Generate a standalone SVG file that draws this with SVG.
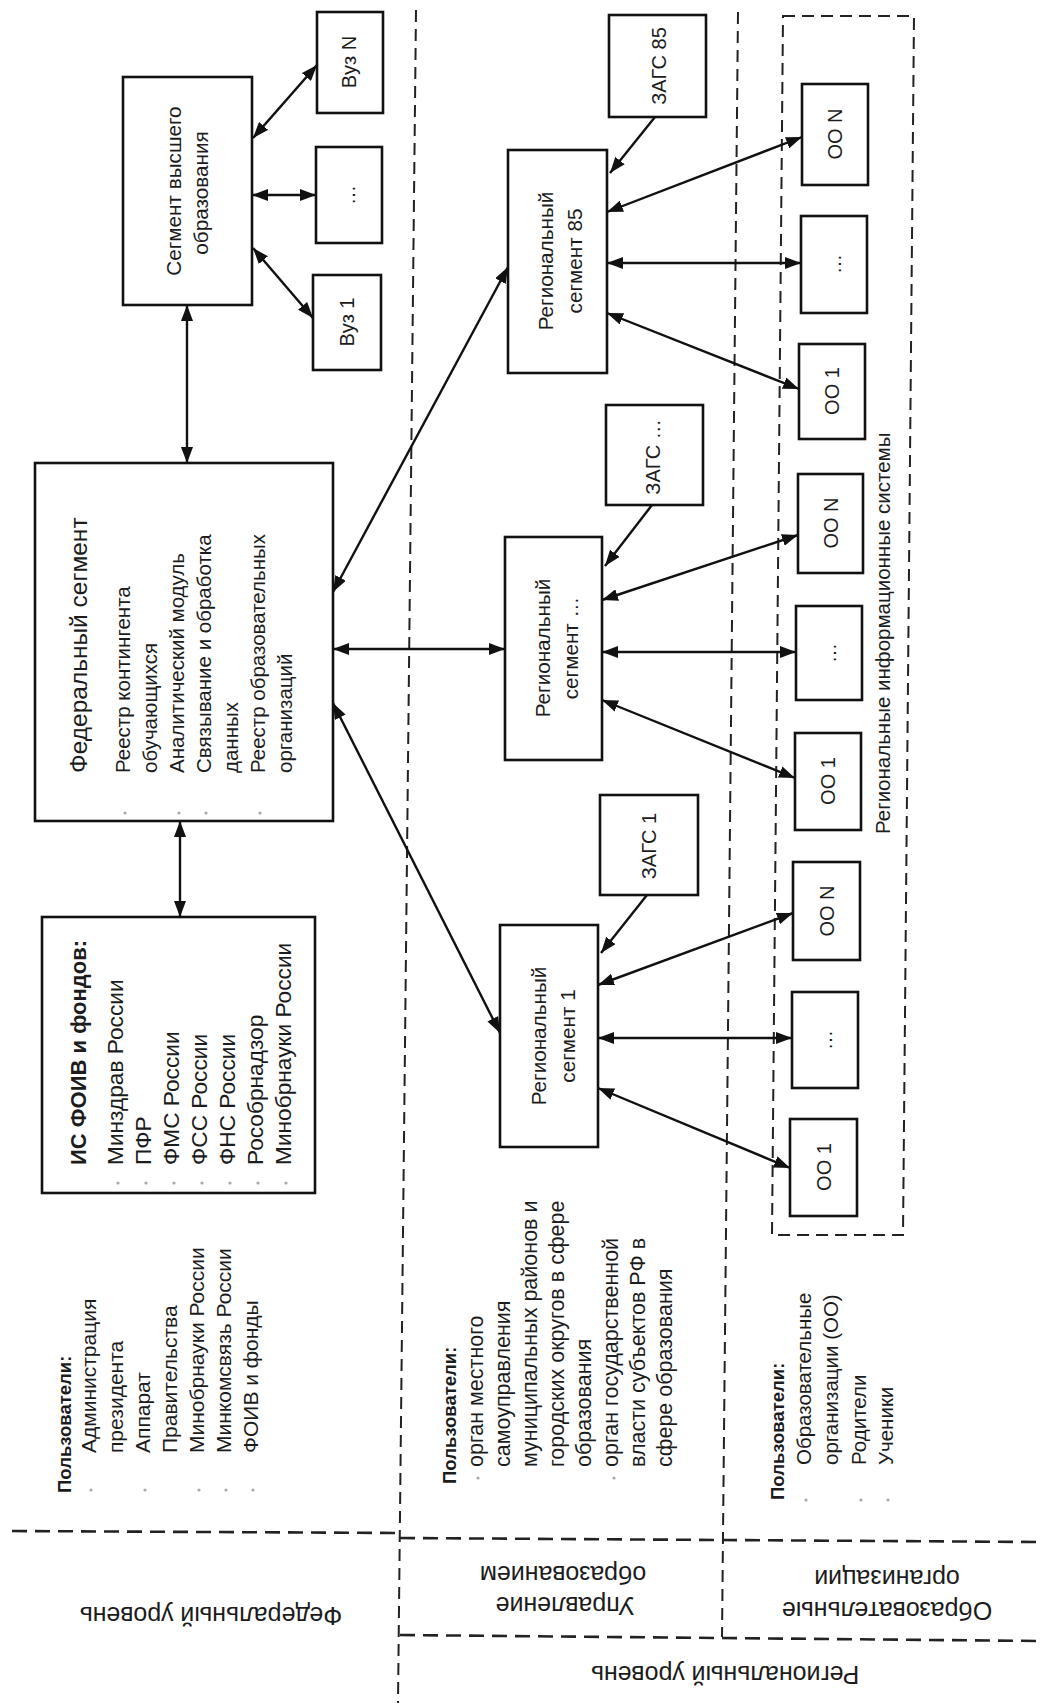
<svg xmlns="http://www.w3.org/2000/svg" width="1041" height="1703" viewBox="0 0 1041 1703">
<defs>
<marker id="ah" viewBox="0 0 16 12" refX="16" refY="6" markerWidth="16" markerHeight="12" markerUnits="userSpaceOnUse" orient="auto-start-reverse"><path d="M0,0 L16,6 L0,12 Z" fill="#111"/></marker>
<style>
.box{fill:none;stroke:#111;stroke-width:2.6}
.t{font-family:"Liberation Sans",Arial,sans-serif;font-size:20px;fill:#1c1c1c}
.m{text-anchor:middle}
.b{font-weight:bold}
.lv{font-size:25px}
.bx{font-size:20.7px}
.c{stroke:#111;stroke-width:2.4;fill:none}
.d{marker-start:url(#ah);marker-end:url(#ah)}
.s{marker-end:url(#ah)}
.dash{stroke:#222;stroke-width:2;fill:none;stroke-dasharray:12 7}
.hdash{stroke:#222;stroke-width:2.6;fill:none;stroke-dasharray:15 8}
.bul{fill:#aaa}
</style>
</defs>
<rect width="1041" height="1703" fill="#fff"/>

<g id="levels">
<line class="dash" x1="416" y1="10" x2="398" y2="1703"/>
<line class="dash" x1="738" y1="12" x2="722" y2="1637"/>
<line class="hdash" x1="12" y1="1531" x2="400" y2="1533"/>
<line class="hdash" x1="400" y1="1538" x2="1041" y2="1542"/>
<line class="hdash" x1="400" y1="1635" x2="1041" y2="1641"/>
<text class="t m lv" transform="translate(211 1607) rotate(180)">Федеральный уровень</text>
<text class="t m lv" transform="translate(565 1597) rotate(180)">Управление</text>
<text class="t m lv" transform="translate(563 1566) rotate(180)">образованием</text>
<text class="t m lv" transform="translate(887 1602) rotate(180)">Образовательные</text>
<text class="t m lv" transform="translate(887 1570) rotate(180)">организации</text>
<text class="t m lv" transform="translate(725 1666) rotate(180)">Региональный уровень</text>
</g>

<g id="users-federal">
<text class="t b" style="font-size:18.5px" transform="translate(71 1493) rotate(-90)">Пользователи:</text>
<text class="t" style="font-size:21px" transform="translate(96 1453) rotate(-90)">Администрация</text>
<text class="t" style="font-size:21px" transform="translate(123 1453) rotate(-90)">президента</text>
<text class="t" style="font-size:21px" transform="translate(150 1453) rotate(-90)">Аппарат</text>
<text class="t" style="font-size:21px" transform="translate(177 1453) rotate(-90)">Правительства</text>
<text class="t" style="font-size:21px" transform="translate(204 1453) rotate(-90)">Минобрнауки России</text>
<text class="t" style="font-size:21px" transform="translate(231 1453) rotate(-90)">Минкомсвязь России</text>
<text class="t" style="font-size:21px" transform="translate(258 1453) rotate(-90)">ФОИВ и фонды</text>
<circle class="bul" cx="91" cy="1490" r="1.6"/><circle class="bul" cx="145" cy="1490" r="1.6"/><circle class="bul" cx="199" cy="1490" r="1.6"/><circle class="bul" cx="226" cy="1490" r="1.6"/><circle class="bul" cx="253" cy="1490" r="1.6"/>
</g>

<g id="users-regional">
<text class="t b" style="font-size:18.5px" transform="translate(456 1484) rotate(-90)">Пользователи:</text>
<text class="t" style="font-size:21.5px" transform="translate(483 1467) rotate(-90)">орган местного</text>
<text class="t" style="font-size:21.5px" transform="translate(510 1467) rotate(-90)">самоуправления</text>
<text class="t" style="font-size:21.5px" transform="translate(537 1467) rotate(-90)">муниципальных районов и</text>
<text class="t" style="font-size:21.5px" transform="translate(564 1467) rotate(-90)">городских округов в сфере</text>
<text class="t" style="font-size:21.5px" transform="translate(591 1467) rotate(-90)">образования</text>
<text class="t" style="font-size:21.5px" transform="translate(618 1467) rotate(-90)">орган государственной</text>
<text class="t" style="font-size:21.5px" transform="translate(645 1467) rotate(-90)">власти субъектов РФ в</text>
<text class="t" style="font-size:21.5px" transform="translate(672 1467) rotate(-90)">сфере образования</text>
<circle class="bul" cx="478" cy="1478" r="1.6"/><circle class="bul" cx="614" cy="1478" r="1.6"/>
</g>

<g id="users-edu">
<text class="t b" style="font-size:18.5px" transform="translate(784 1500) rotate(-90)">Пользователи:</text>
<text class="t" style="font-size:20.5px" transform="translate(811 1465) rotate(-90)">Образовательные</text>
<text class="t" style="font-size:20.5px" transform="translate(838 1465) rotate(-90)">организации (ОО)</text>
<text class="t" style="font-size:20.5px" transform="translate(866 1465) rotate(-90)">Родители</text>
<text class="t" style="font-size:20.5px" transform="translate(893 1465) rotate(-90)">Ученики</text>
<circle class="bul" cx="806" cy="1500" r="1.6"/><circle class="bul" cx="861" cy="1500" r="1.6"/><circle class="bul" cx="888" cy="1500" r="1.6"/>
</g>

<g id="regional-is">
<path class="dash" d="M783,16 L914,16 L903,1235 L772,1235 Z"/>
<text class="t" style="font-size:20.5px" transform="translate(890 834) rotate(-90)">Региональные информационные системы</text>
</g>

<g id="connectors">
<line class="c d" x1="253" y1="138" x2="317" y2="65"/>
<line class="c d" x1="252" y1="195" x2="316" y2="195"/>
<line class="c d" x1="253" y1="248" x2="313" y2="318"/>
<line class="c d" x1="187" y1="305" x2="187" y2="463"/>
<line class="c d" x1="180" y1="821" x2="180" y2="917"/>
<line class="c d" x1="333" y1="592" x2="508" y2="267"/>
<line class="c d" x1="333" y1="649" x2="505" y2="649"/>
<line class="c d" x1="333" y1="703" x2="500" y2="1033"/>
<line class="c s" x1="655" y1="117" x2="610" y2="173"/>
<line class="c s" x1="652" y1="505" x2="605" y2="566"/>
<line class="c s" x1="647" y1="895" x2="601" y2="953"/>
<line class="c d" x1="607" y1="212" x2="802" y2="137"/>
<line class="c d" x1="607" y1="263" x2="801" y2="263"/>
<line class="c d" x1="607" y1="313" x2="799" y2="389"/>
<line class="c d" x1="602" y1="600" x2="798" y2="535"/>
<line class="c d" x1="602" y1="652" x2="796" y2="652"/>
<line class="c d" x1="602" y1="700" x2="795" y2="778"/>
<line class="c d" x1="598" y1="985" x2="793" y2="913"/>
<line class="c d" x1="598" y1="1038" x2="792" y2="1038"/>
<line class="c d" x1="598" y1="1088" x2="790" y2="1168"/>
</g>

<g id="seg-higher">
<rect class="box" x="123" y="77" width="129" height="228"/>
<text class="t m bx" transform="translate(181 191) rotate(-90)">Сегмент высшего</text>
<text class="t m bx" transform="translate(208 193) rotate(-90)">образования</text>
</g>
<g id="vuz-n">
<rect class="box" x="317" y="12" width="66" height="101"/>
<text class="t m" transform="translate(356 62) rotate(-90)">Вуз N</text>
</g>
<g id="vuz-dots">
<rect class="box" x="316" y="147" width="66" height="96"/>
<text class="t m" transform="translate(355 195) rotate(-90)">…</text>
</g>
<g id="vuz-1">
<rect class="box" x="313" y="275" width="68" height="95"/>
<text class="t m" transform="translate(354 322) rotate(-90)">Вуз 1</text>
</g>

<g id="fed-seg">
<rect class="box" x="35" y="463" width="298" height="358"/>
<text class="t" style="font-size:24.5px" transform="translate(87 773) rotate(-90)">Федеральный сегмент</text>
<text class="t" style="font-size:20.5px" transform="translate(130 773) rotate(-90)">Реестр контингента</text>
<text class="t" style="font-size:20.5px" transform="translate(157 773) rotate(-90)">обучающихся</text>
<text class="t" style="font-size:20.5px" transform="translate(184 773) rotate(-90)">Аналитический модуль</text>
<text class="t" style="font-size:20.5px" transform="translate(211 773) rotate(-90)">Связывание и обработка</text>
<text class="t" style="font-size:20.5px" transform="translate(238 773) rotate(-90)">данных</text>
<text class="t" style="font-size:20.5px" transform="translate(265 773) rotate(-90)">Реестр образовательных</text>
<text class="t" style="font-size:20.5px" transform="translate(292 773) rotate(-90)">организаций</text>
<circle class="bul" cx="125" cy="813" r="1.6"/><circle class="bul" cx="179" cy="813" r="1.6"/><circle class="bul" cx="206" cy="813" r="1.6"/><circle class="bul" cx="260" cy="813" r="1.6"/>
</g>

<g id="is-foiv">
<rect class="box" x="42" y="917" width="273" height="276"/>
<text class="t b" style="font-size:22px" transform="translate(86 1165) rotate(-90)">ИС ФОИВ и фондов:</text>
<text class="t" style="font-size:22.7px" transform="translate(123 1165) rotate(-90)">Минздрав России</text>
<text class="t" style="font-size:22.7px" transform="translate(151 1165) rotate(-90)">ПФР</text>
<text class="t" style="font-size:22.7px" transform="translate(179 1165) rotate(-90)">ФМС России</text>
<text class="t" style="font-size:22.7px" transform="translate(207 1165) rotate(-90)">ФСС России</text>
<text class="t" style="font-size:22.7px" transform="translate(235 1165) rotate(-90)">ФНС России</text>
<text class="t" style="font-size:22.7px" transform="translate(263 1165) rotate(-90)">Рособрнадзор</text>
<text class="t" style="font-size:22.7px" transform="translate(291 1165) rotate(-90)">Минобрнауки России</text>
<circle class="bul" cx="118" cy="1183" r="1.6"/><circle class="bul" cx="146" cy="1183" r="1.6"/><circle class="bul" cx="174" cy="1183" r="1.6"/><circle class="bul" cx="202" cy="1183" r="1.6"/><circle class="bul" cx="230" cy="1183" r="1.6"/><circle class="bul" cx="258" cy="1183" r="1.6"/><circle class="bul" cx="286" cy="1183" r="1.6"/>
</g>

<g id="reg-85">
<rect class="box" x="508" y="150" width="99" height="223"/>
<text class="t m bx" transform="translate(553 261) rotate(-90)">Региональный</text>
<text class="t m bx" transform="translate(582 261) rotate(-90)">сегмент 85</text>
</g>
<g id="zags-85">
<rect class="box" x="609" y="15" width="97" height="102"/>
<text class="t m" transform="translate(666 66) rotate(-90)">ЗАГС 85</text>
</g>
<g id="reg-dots">
<rect class="box" x="505" y="537" width="97" height="223"/>
<text class="t m bx" transform="translate(550 648) rotate(-90)">Региональный</text>
<text class="t m bx" transform="translate(578 648) rotate(-90)">сегмент …</text>
</g>
<g id="zags-dots">
<rect class="box" x="606" y="405" width="97" height="100"/>
<text class="t m" transform="translate(660 457) rotate(-90)">ЗАГС …</text>
</g>
<g id="reg-1">
<rect class="box" x="500" y="925" width="98" height="222"/>
<text class="t m bx" transform="translate(546 1036) rotate(-90)">Региональный</text>
<text class="t m bx" transform="translate(575 1036) rotate(-90)">сегмент 1</text>
</g>
<g id="zags-1">
<rect class="box" x="600" y="795" width="98" height="100"/>
<text class="t m" transform="translate(656 846) rotate(-90)">ЗАГС 1</text>
</g>

<g id="oo-85-n"><rect class="box" x="802" y="84" width="66" height="101"/><text class="t m" transform="translate(842 134) rotate(-90)">ОО N</text></g>
<g id="oo-85-dots"><rect class="box" x="801" y="216" width="66" height="97"/><text class="t m" transform="translate(841 264) rotate(-90)">…</text></g>
<g id="oo-85-1"><rect class="box" x="799" y="344" width="66" height="95"/><text class="t m" transform="translate(839 391) rotate(-90)">ОО 1</text></g>
<g id="oo-x-n"><rect class="box" x="798" y="474" width="65" height="99"/><text class="t m" transform="translate(838 523) rotate(-90)">ОО N</text></g>
<g id="oo-x-dots"><rect class="box" x="796" y="606" width="66" height="94"/><text class="t m" transform="translate(836 653) rotate(-90)">…</text></g>
<g id="oo-x-1"><rect class="box" x="795" y="733" width="66" height="97"/><text class="t m" transform="translate(835 781) rotate(-90)">ОО 1</text></g>
<g id="oo-1-n"><rect class="box" x="793" y="862" width="67" height="98"/><text class="t m" transform="translate(834 911) rotate(-90)">ОО N</text></g>
<g id="oo-1-dots"><rect class="box" x="792" y="992" width="66" height="96"/><text class="t m" transform="translate(832 1040) rotate(-90)">…</text></g>
<g id="oo-1-1"><rect class="box" x="790" y="1119" width="67" height="97"/><text class="t m" transform="translate(831 1167) rotate(-90)">ОО 1</text></g>
</svg>
